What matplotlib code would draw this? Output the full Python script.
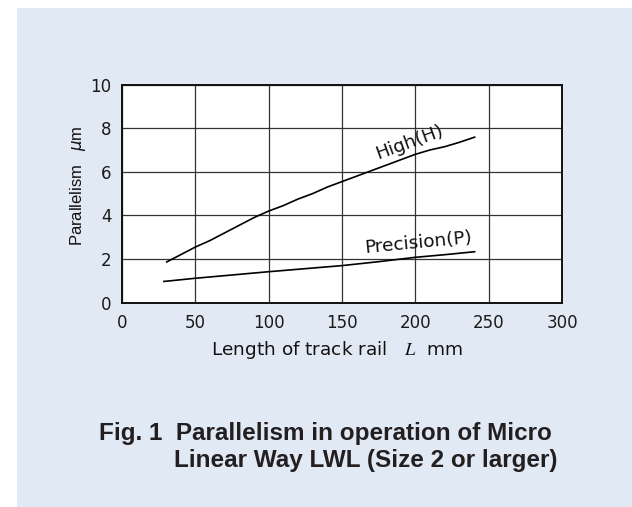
import matplotlib
matplotlib.use("Agg")
import matplotlib.pyplot as plt
from matplotlib.patches import Rectangle

plt.rcParams['font.family'] = ['DejaVu Sans']

# Data
high_x = [30, 40, 50, 60, 70, 80, 90, 100, 110, 120, 130, 140, 150, 160, 170,
          180, 190, 200, 210, 220, 230, 241]
high_y = [1.85, 2.2, 2.55, 2.85, 3.2, 3.55, 3.9, 4.2, 4.45, 4.75, 5.0, 5.3, 5.55,
          5.8, 6.05, 6.3, 6.55, 6.8, 7.0, 7.15, 7.35, 7.6]
prec_x = [28, 50, 75, 100, 125, 150, 175, 200, 220, 241]
prec_y = [0.97, 1.12, 1.27, 1.42, 1.56, 1.70, 1.88, 2.08, 2.2, 2.34]
x_ticks = [0, 50, 100, 150, 200, 250, 300]
y_ticks = [0, 2, 4, 6, 8, 10]

W, H = 632, 507
fig = plt.figure(figsize=(W / 100, H / 100), dpi=100)
fig.patch.set_facecolor('white')
bg = Rectangle((17 / W, 0), 1 - 17 / W, (H - 8) / H,
               transform=fig.transFigure, facecolor='#e1e9f5',
               edgecolor='none', zorder=-10)
fig.patches.append(bg)

ax = fig.add_axes([122 / W, (H - 302.7) / H, 440 / W, 218.2 / H])
ax.set_zorder(5)
ax.set_facecolor('white')
ax.set_xlim(0, 300)
ax.set_ylim(0, 10)
ax.set_xticks(x_ticks)
ax.set_yticks(y_ticks)
ax.tick_params(length=0, labelsize=12, pad=7.5, colors='#1a1a1a')
ax.tick_params(axis='x', pad=8)
ax.grid(True, color='#333333', linewidth=0.9)
ax.set_axisbelow(True)
for s in ax.spines.values():
    s.set_linewidth(1.4)
    s.set_color('#111111')

ax.plot(high_x, high_y, color='black', linewidth=1.2, solid_capstyle='butt')
ax.plot(prec_x, prec_y, color='black', linewidth=1.2, solid_capstyle='butt')

ax.text(196, 7.35, 'High(H)', rotation=20, ha='center', va='center',
        fontsize=13.3, color='#111111')
ax.text(202, 2.75, 'Precision(P)', rotation=5.5, ha='center', va='center',
        fontsize=13.3, color='#111111')

fig.text(78 / W, (H - 186) / H, 'Parallelism   $\\mu$m', rotation=90,
         ha='center', va='center', fontsize=12, color='#111111',
         family=['Liberation Sans', 'DejaVu Sans'], math_fontfamily='dejavusans')
fig.text(337 / W, (H - 355) / H, 'Length of track rail   $L$  mm',
         ha='center', va='baseline', fontsize=13.3, color='#111111',
         math_fontfamily='stix')

fig.text(99 / W, (H - 440) / H, 'Fig. 1  Parallelism in operation of Micro',
         fontsize=17.5, fontweight='bold', color='#231f20', ha='left',
         va='baseline', family=['Liberation Sans', 'DejaVu Sans'])
fig.text(174 / W, (H - 467) / H, 'Linear Way LWL (Size 2 or larger)',
         fontsize=17.5, fontweight='bold', color='#231f20', ha='left',
         va='baseline', family=['Liberation Sans', 'DejaVu Sans'])

fig.savefig('out.png', dpi=100)
